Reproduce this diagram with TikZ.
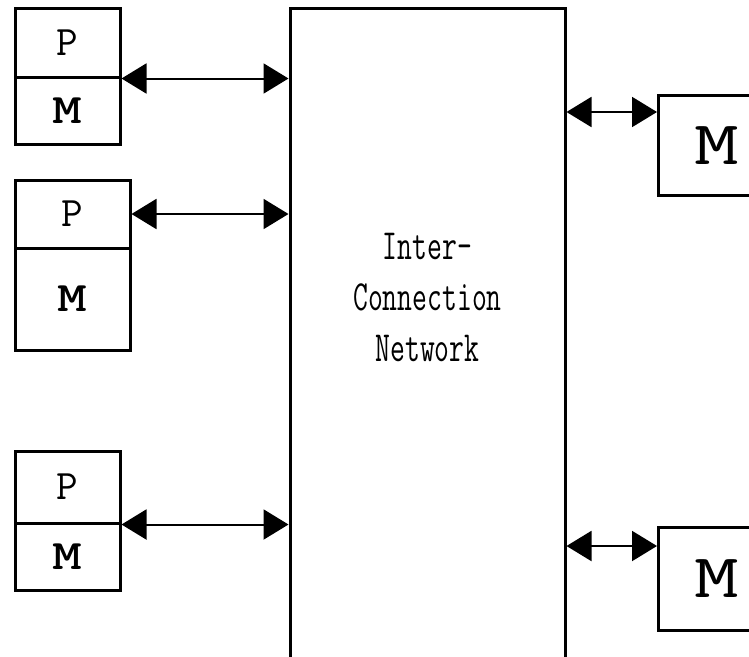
\documentclass[tikz,border=0pt]{standalone}
\usepackage{fontspec}
\usetikzlibrary{arrows.meta}

\tikzset{
    cell/.style={draw, line width=3pt, inner sep=0pt,
        font=\ttfamily\fontsize{42}{50}\selectfont},
    bigm/.style={cell, inner xsep=36pt, text width=80pt, align=left,
        font=\ttfamily\fontsize{62}{70}\selectfont},
    biarrow/.style={line width=2pt,
        {Triangle[length=25pt,width=30pt]}-{Triangle[length=25pt,width=30pt]}},
}

\begin{document}
\begin{tikzpicture}[x=1pt, y=-1pt]
        \useasboundingbox (0,0) rectangle (749,656);
        \clip (0,0) rectangle (749,656);

        \node[cell, minimum width=105pt, minimum height=69pt] (p1) at (67.5, 42.5) {P};
        \node[cell, minimum width=105pt, minimum height=67pt] (m1) at (67.5, 110.5) {\scalebox{1.35}[1]{\bfseries M}};

        \node[cell, minimum width=115pt, minimum height=68pt] (p2) at (72.5, 214) {P};
        \node[cell, minimum width=115pt, minimum height=102pt] (m2) at (72.5, 299) {\scalebox{1.35}[1]{\bfseries M}};

        \node[cell, minimum width=105pt, minimum height=72pt] (p3) at (67.5, 487) {P};
        \node[cell, minimum width=105pt, minimum height=67pt] (m3) at (67.5, 556.5) {\scalebox{1.35}[1]{\bfseries M}};

        \node[cell, minimum width=275pt, minimum height=712pt] (net) at (427.5, 364) {};
        \node[font=\ttfamily\fontsize{43}{51}\selectfont, align=center, xscale=0.67, transform shape] (label) at (427.5, 297) {Inter-\\Connection\\Network};

        \node[bigm, minimum height=100pt, anchor=north west] (mr1) at (657, 94) {\scalebox{1.4}[1]{M}};
        \node[bigm, minimum height=103pt, anchor=north west] (mr2) at (657, 526) {\scalebox{1.4}[1]{M}};

        \draw[biarrow] (p1.south east) -- (p1.south east -| net.west);
        \draw[biarrow] (p2.east) -- (p2.east -| net.west);
        \draw[biarrow] (p3.south east) -- (p3.south east -| net.west);

        \coordinate (r1) at ([yshift=-18pt]mr1.north west);
        \coordinate (r2) at ([yshift=-20pt]mr2.north west);
        \draw[biarrow] (r1 -| net.east) -- (r1);
        \draw[biarrow] (r2 -| net.east) -- (r2);
    \end{tikzpicture}
\end{document}
